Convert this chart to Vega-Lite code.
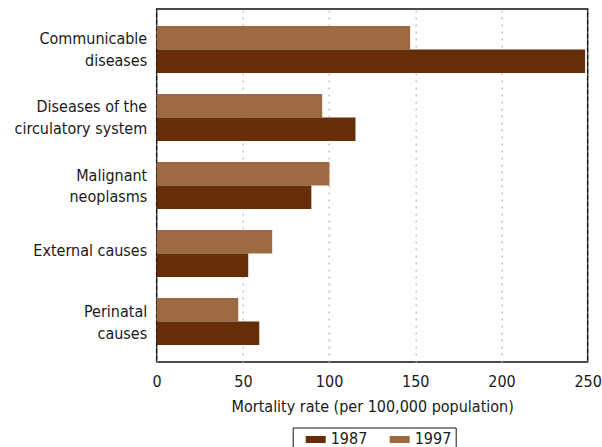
{
  "$schema": "https://vega.github.io/schema/vega-lite/v6.json",
  "autosize": {"type": "none"},
  "padding": {"left": 156.7, "top": 9, "right": 14, "bottom": 85},
  "width": 431,
  "height": 353,
  "config": {
    "font": "Liberation Sans Narrow, DejaVu Sans Condensed, Liberation Sans",
    "view": {"stroke": "#111", "strokeWidth": 1.5},
    "axis": {"labelFontSize": 16, "titleFontSize": 16, "labelColor": "#1a1a1a", "titleColor": "#1a1a1a", "labelFont": "Liberation Sans Narrow, DejaVu Sans Condensed, Liberation Sans", "titleFont": "Liberation Sans Narrow, DejaVu Sans Condensed, Liberation Sans", "titleFontWeight": "normal"},
    "legend": {"labelFont": "Liberation Sans Narrow, DejaVu Sans Condensed, Liberation Sans"}
  },
  "data": {
    "values": [
      {"cause": "Communicable diseases", "year": "1997", "rate": 147},
      {"cause": "Communicable diseases", "year": "1987", "rate": 248.5},
      {"cause": "Diseases of the circulatory system", "year": "1997", "rate": 96},
      {"cause": "Diseases of the circulatory system", "year": "1987", "rate": 115.3},
      {"cause": "Malignant neoplasms", "year": "1997", "rate": 100.2},
      {"cause": "Malignant neoplasms", "year": "1987", "rate": 89.7},
      {"cause": "External causes", "year": "1997", "rate": 67},
      {"cause": "External causes", "year": "1987", "rate": 53.1},
      {"cause": "Perinatal causes", "year": "1997", "rate": 47.3},
      {"cause": "Perinatal causes", "year": "1987", "rate": 59.5}
    ]
  },
  "mark": {"type": "bar"},
  "encoding": {
    "y": {
      "field": "cause",
      "type": "nominal",
      "sort": null,
      "scale": {"paddingInner": 0.31, "paddingOuter": 0.25},
      "axis": {
        "title": null,
        "ticks": false,
        "domain": false,
        "labelPadding": 10,
        "labelLineHeight": 22,
        "labelLimit": 200,
        "labelOffset": {"condition": {"test": "datum.value == 'External causes'", "value": -3}, "value": -10},
        "labelExpr": "datum.value == 'Communicable diseases' ? ['Communicable', 'diseases'] : datum.value == 'Diseases of the circulatory system' ? ['Diseases of the', 'circulatory system'] : datum.value == 'Malignant neoplasms' ? ['Malignant', 'neoplasms'] : datum.value == 'Perinatal causes' ? ['Perinatal', 'causes'] : datum.value"
      }
    },
    "yOffset": {"field": "year", "type": "nominal", "scale": {"domain": ["1997", "1987"], "paddingInner": 0, "paddingOuter": 0}},
    "x": {
      "field": "rate",
      "type": "quantitative",
      "scale": {"domain": [0, 250], "nice": false},
      "axis": {
        "title": "Mortality rate (per 100,000 population)",
        "values": [0, 50, 100, 150, 200, 250],
        "ticks": false,
        "domain": false,
        "grid": true,
        "gridColor": "#b5b5b5",
        "gridDash": [2, 5],
        "gridWidth": 1.2,
        "labelPadding": 12,
        "titlePadding": 9,
        "labelFlush": false
      }
    },
    "color": {
      "field": "year",
      "type": "nominal",
      "scale": {"domain": ["1987", "1997"], "range": ["#652D08", "#9C6943"]},
      "legend": {
        "title": null,
        "orient": "none",
        "direction": "horizontal",
        "legendX": 136,
        "legendY": 418.5,
        "symbolType": "M-2,-0.7H2V0.7H-2Z",
        "symbolSize": 100,
        "symbolOffset": 11,
        "symbolStrokeWidth": 0,
        "labelFontSize": 16,
        "labelColor": "#1a1a1a",
        "labelOffset": 7,
        "columnPadding": 13,
        "padding": 4,
        "strokeColor": "#111",
        "fillColor": "white"
      }
    }
  }
}
